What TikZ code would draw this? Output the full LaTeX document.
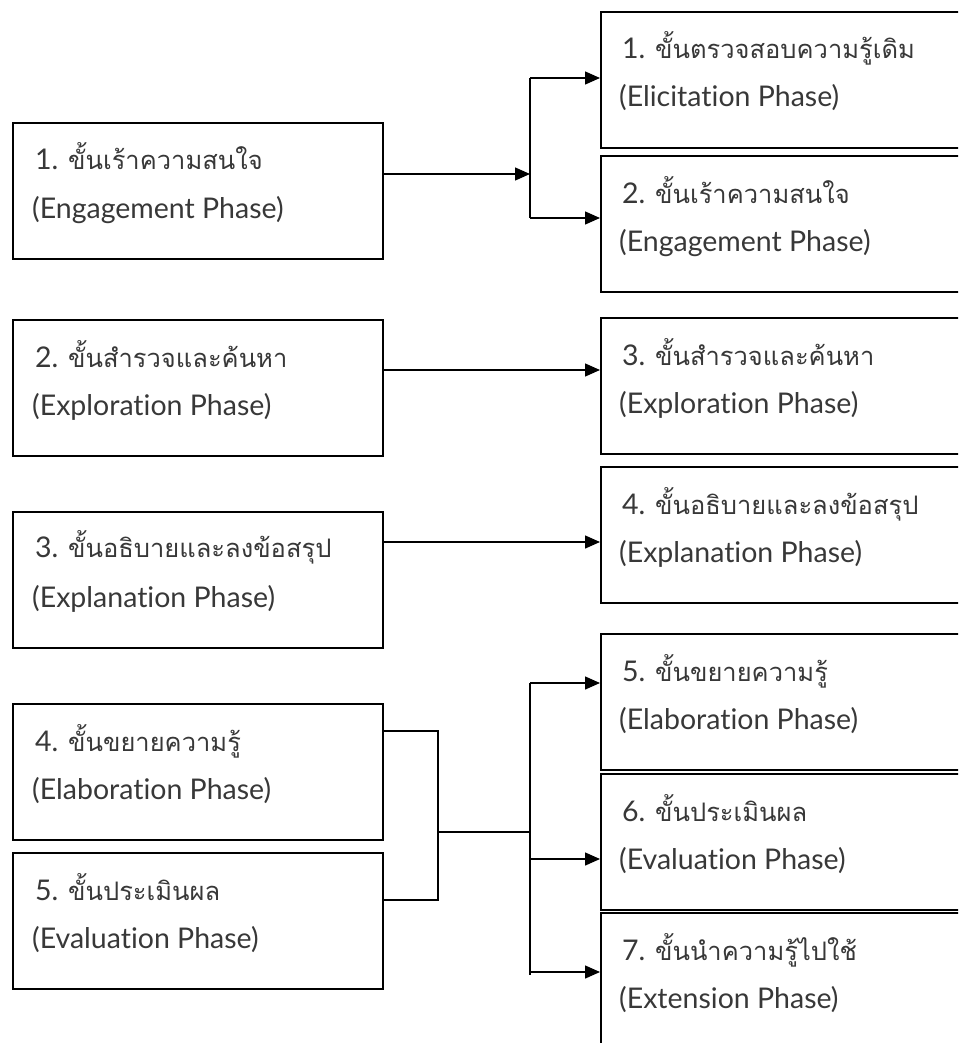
\documentclass[tikz,border=0pt]{standalone}
\usepackage{fontspec}
\setmainfont[Ligatures={NoCommon}]{Lato}
\newfontfamily\thaifont[Script=Thai]{Loma}
\newcommand{\thaitext}[1]{{\thaifont\fontsize{25.5}{30}\selectfont #1}}
\usetikzlibrary{arrows.meta}

\begin{document}
\begin{tikzpicture}[x=1pt,y=-1pt,
  box/.style={draw=black, line width=1.7pt, rectangle, anchor=north west, inner sep=0pt},
  lbox/.style={box, minimum width=370pt, minimum height=136pt},
  rbox/.style={box, minimum width=380pt, minimum height=136pt},
  txt/.style={anchor=base west, inner sep=0pt, font=\fontsize{28.5}{30}\selectfont, text=black!78},
  link/.style={line width=1.4pt},
  arr/.style={link, -{Triangle[length=15pt,width=13pt]}}]

\useasboundingbox (0,0) rectangle (958,1043);
\clip (0,0) rectangle (958,1043);

% left column: the five phases of the 5E model
\node[lbox] (l1) at (12,122) {};
\node[lbox] (l2) at (12,319) {};
\node[lbox] (l3) at (12,511) {};
\node[lbox] (l4) at (12,703) {};
\node[lbox] (l5) at (12,852) {};

% right column: the seven phases of the 7E model
\node[rbox] (r1) at (600,11) {};
\node[rbox] (r2) at (600,155) {};
\node[rbox] (r3) at (600,317) {};
\node[rbox] (r4) at (600,466) {};
\node[rbox] (r5) at (600,633) {};
\node[rbox] (r6) at (600,773) {};
\node[rbox, minimum height=160pt] (r7) at (600,912) {};

% labels, two lines per box
\node[txt] (l1a) at ([shift={(23,48)}]l1.north west) {1. \thaitext{ขั้นเร้าความสนใจ}};
\node[txt] (l1b) at ([shift={(20,96)}]l1.north west) {(Engagement Phase)};
\node[txt] (l2a) at ([shift={(23,48)}]l2.north west) {2. \thaitext{ขั้นสำรวจและค้นหา}};
\node[txt] (l2b) at ([shift={(20,96)}]l2.north west) {(Exploration Phase)};
\node[txt] (l3a) at ([shift={(23,46)}]l3.north west) {3. \thaitext{ขั้นอธิบายและลงข้อสรุป}};
\node[txt] (l3b) at ([shift={(20,96)}]l3.north west) {(Explanation Phase)};
\node[txt] (l4a) at ([shift={(23,48)}]l4.north west) {4. \thaitext{ขั้นขยายความรู้}};
\node[txt] (l4b) at ([shift={(20,96)}]l4.north west) {(Elaboration Phase)};
\node[txt] (l5a) at ([shift={(23,48)}]l5.north west) {5. \thaitext{ขั้นประเมินผล}};
\node[txt] (l5b) at ([shift={(20,96)}]l5.north west) {(Evaluation Phase)};

\node[txt] (r1a) at ([shift={(22,48)}]r1.north west) {1. \thaitext{ขั้นตรวจสอบความรู้เดิม}};
\node[txt] (r1b) at ([shift={(19,96)}]r1.north west) {(Elicitation Phase)};
\node[txt] (r2a) at ([shift={(22,48)}]r2.north west) {2. \thaitext{ขั้นเร้าความสนใจ}};
\node[txt] (r2b) at ([shift={(19,96)}]r2.north west) {(Engagement Phase)};
\node[txt] (r3a) at ([shift={(22,48)}]r3.north west) {3. \thaitext{ขั้นสำรวจและค้นหา}};
\node[txt] (r3b) at ([shift={(19,96)}]r3.north west) {(Exploration Phase)};
\node[txt] (r4a) at ([shift={(22,48)}]r4.north west) {4. \thaitext{ขั้นอธิบายและลงข้อสรุป}};
\node[txt] (r4b) at ([shift={(19,96)}]r4.north west) {(Explanation Phase)};
\node[txt] (r5a) at ([shift={(22,48)}]r5.north west) {5. \thaitext{ขั้นขยายความรู้}};
\node[txt] (r5b) at ([shift={(19,96)}]r5.north west) {(Elaboration Phase)};
\node[txt] (r6a) at ([shift={(22,48)}]r6.north west) {6. \thaitext{ขั้นประเมินผล}};
\node[txt] (r6b) at ([shift={(19,96)}]r6.north west) {(Evaluation Phase)};
\node[txt] (r7a) at ([shift={(22,48)}]r7.north west) {7. \thaitext{ขั้นนำความรู้ไปใช้}};
\node[txt] (r7b) at ([shift={(19,96)}]r7.north west) {(Extension Phase)};

% engagement splits into elicitation and engagement
\coordinate (j1) at (530,174);
\coordinate (s1) at (530,78);
\coordinate (s2) at (530,218);
\draw[arr] (l1.east |- j1) -- (j1);
\draw[link] (s1) -- (s2);
\draw[arr] (s1) -- (s1 -| r1.west);
\draw[arr] (s2) -- (s2 -| r2.west);

% exploration and explanation map one to one
\coordinate (j2) at (500,370);
\coordinate (j3) at (500,542);
\draw[arr] (l2.east |- j2) -- (j2 -| r3.west);
\draw[arr] (l3.east |- j3) -- (j3 -| r4.west);

% elaboration and evaluation merge, then split into three
\coordinate (m1) at (438,731);
\coordinate (m2) at (438,900);
\coordinate (m3) at (438,832);
\coordinate (k1) at (530,683);
\coordinate (k2) at (530,859);
\coordinate (k3) at (530,975);
\coordinate (k4) at (530,832);
\coordinate (k5) at (530,972);
\draw[link] (l4.east |- m1) -- (m1) -- (m2) -- (l5.east |- m2);
\draw[link] (m3) -- (k4);
\draw[link] (k1) -- (k3);
\draw[arr] (k1) -- (k1 -| r5.west);
\draw[arr] (k2) -- (k2 -| r6.west);
\draw[arr] (k5) -- (k5 -| r7.west);
\end{tikzpicture}
\end{document}
